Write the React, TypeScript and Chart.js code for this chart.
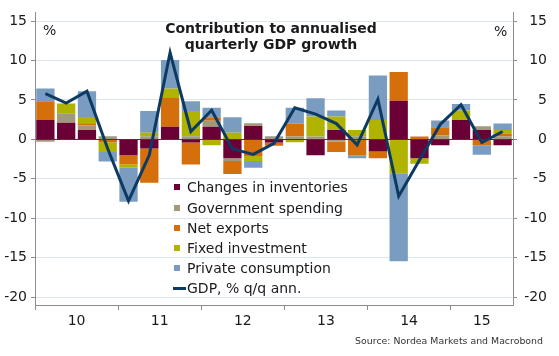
import React, { useEffect, useRef } from 'react';
import { Chart, registerables } from 'chart.js';

Chart.register(...registerables);

// Quarters 2010Q1 .. 2015Q3
const quarters = [
  '2010Q1', '2010Q2', '2010Q3', '2010Q4',
  '2011Q1', '2011Q2', '2011Q3', '2011Q4',
  '2012Q1', '2012Q2', '2012Q3', '2012Q4',
  '2013Q1', '2013Q2', '2013Q3', '2013Q4',
  '2014Q1', '2014Q2', '2014Q3', '2014Q4',
  '2015Q1', '2015Q2', '2015Q3',
];
const yearLabels = ['10', '11', '12', '13', '14', '15'];
const yTicks = [-20, -15, -10, -5, 0, 5, 10, 15];

const inventories = [2.45, 2.1, 1.2, 0, -2.0, -1.15, 1.6, -0.4, 1.6, -2.4, 1.7, -0.4, 0, -2.0, 1.2, 0, -1.55, 4.9, -2.4, -0.75, 2.45, 1.2, -0.75];
const government = [-0.3, 1.2, 0.55, 0.4, 0, 0.4, 0, 0.4, 0.75, -0.35, 0.35, 0.4, 0.35, 0.35, -0.3, 0.4, 0, 0, 0, 0.5, 0, 0.45, 0.4];
const netExports = [2.4, 0, 0.3, -0.4, -1.15, -4.35, 3.65, -2.8, 0.45, -1.65, -2.1, -0.4, 1.65, 0, -1.3, -2.0, -0.85, 3.65, 0.35, 1.05, 0, -0.75, 0.35];
const fixedInvestment = [0, 1.25, 0.8, -1.2, -0.45, 0.45, 1.2, 3.2, -0.75, 0.85, -0.65, 0, -0.35, 2.55, 1.7, 0.8, 2.45, -4.3, -0.7, 0, 1.2, 0, 0.45];
const privateConsumption = [1.6, 0, 3.25, -1.2, -4.3, 2.75, 3.6, 1.25, 1.2, 1.95, -0.85, 0, 2.0, 2.3, 0.75, -0.4, 5.65, -11.15, 0, 0.85, 0.85, -1.2, 0.8];
const gdp = [5.8, 4.6, 6.1, -1.2, -7.8, -2.0, 11.0, 1.0, 3.7, -1.2, -1.9, -0.5, 4.0, 3.2, 2.0, -0.7, 5.1, -7.2, -2.6, 1.9, 4.4, -0.4, 1.0];

const seriesNames = ['Changes in inventories', 'Government spending', 'Net exports', 'Fixed investment', 'Private consumption'];
const seriesColors = ['#6B0036', '#A09A7A', '#D46F0B', '#B0B300', '#7B9CC1'];
const seriesData = [inventories, government, netExports, fixedInvestment, privateConsumption];
const gdpName = 'GDP, % q/q ann.';
const gdpColor = '#0D3A63';

const FONT = 'DejaVu Sans';
const TEXT = '#1a1a1a';
const AXIS = '#8c8c8c';

const yearCenters = yearLabels.map((y) => {
  const idx = quarters.map((q, i) => (q.slice(2, 4) === y ? i : -1)).filter((i) => i >= 0);
  return idx.reduce((a, b) => a + b, 0) / idx.length;
});

export default function App() {
  const canvasRef = useRef<HTMLCanvasElement | null>(null);

  useEffect(() => {
    document.body.style.margin = '0';
    const canvas = canvasRef.current;
    if (!canvas) return;
    const font = { family: FONT, size: 14 };
    const setYTicks = (s: any) => {
      s.ticks = yTicks.map((v) => ({ value: v }));
    };
    const chart = new Chart(canvas, {
      type: 'bar',
      data: {
        labels: quarters,
        datasets: [
          {
            type: 'line' as const,
            label: gdpName,
            data: gdp,
            borderColor: gdpColor,
            backgroundColor: gdpColor,
            borderWidth: 3,
            pointRadius: 0,
            tension: 0,
            fill: false,
            order: 0,
            stack: 'gdp',
            borderJoinStyle: 'miter' as const,
            xAxisID: 'x',
            yAxisID: 'y',
          } as any,
          ...seriesNames.map((name, i) => ({
            type: 'bar' as const,
            label: name,
            data: seriesData[i],
            backgroundColor: seriesColors[i],
            borderWidth: 0,
            barPercentage: 0.88,
            categoryPercentage: 1,
            order: 1,
            stack: 'components',
            xAxisID: 'x',
            yAxisID: 'y',
          })),
        ],
      },
      options: {
        animation: false,
        responsive: true,
        maintainAspectRatio: false,
        layout: { padding: { top: 10, left: 0, right: 12, bottom: 0 } },
        plugins: {
          legend: { display: false },
          tooltip: { enabled: false },
          title: { display: false },
        },
        scales: {
          x: {
            type: 'category',
            position: 'bottom',
            stacked: true,
            offset: true,
            weight: 0,
            grid: {
              offset: true,
              drawOnChartArea: false,
              drawTicks: true,
              tickLength: 5,
              color: (ctx: any) =>
                ctx.index !== undefined && ctx.index % 4 === 0 ? AXIS : 'rgba(0,0,0,0)',
            },
            border: { display: true, color: AXIS, width: 1 },
            ticks: { display: false, autoSkip: false },
            afterFit: (s: any) => {
              s.height = 6;
            },
          },
          yr: {
            type: 'linear',
            axis: 'x',
            position: 'bottom',
            min: -0.5,
            max: quarters.length - 0.5,
            offset: false,
            bounds: 'data',
            grace: 0,
            beginAtZero: false,
            weight: 1,
            grid: { display: false, drawTicks: false, offset: false },
            border: { display: false },
            afterBuildTicks: (s: any) => {
              s.ticks = yearCenters.map((v) => ({ value: v }));
            },
            ticks: {
              font,
              color: TEXT,
              padding: 2,
              autoSkip: false,
              maxRotation: 0,
              callback: (_v: any, i: number) => yearLabels[i],
            },
            afterFit: (s: any) => {
              s.height = 45;
            },
          },
          y: {
            type: 'linear',
            position: 'left',
            stacked: true,
            min: -21,
            max: 16.1,
            afterBuildTicks: setYTicks,
            grid: {
              color: (ctx: any) => (ctx.tick && ctx.tick.value === 0 ? 'rgba(0,0,0,0)' : '#DCE5EE'),
              tickColor: AXIS,
              tickLength: 4,
              lineWidth: 1,
            },
            border: { color: AXIS, width: 1 },
            ticks: { font, color: TEXT, padding: 4, autoSkip: false },
            afterFit: (s: any) => {
              s.width = 35;
            },
          },
          y2: {
            type: 'linear',
            position: 'right',
            min: -21,
            max: 16.1,
            z: 1,
            afterBuildTicks: setYTicks,
            grid: {
              drawOnChartArea: true,
              color: (ctx: any) => (ctx.tick && ctx.tick.value === 0 ? '#3a3a3a' : 'rgba(0,0,0,0)'),
              tickColor: AXIS,
              tickLength: 4,
              lineWidth: 1,
            },
            border: { color: AXIS, width: 1 },
            ticks: { font, color: TEXT, padding: 4, autoSkip: false, crossAlign: 'far' },
            afterFit: (s: any) => {
              s.width = 34;
            },
          },
        },
      } as any,
    });
    return () => chart.destroy();
  }, []);

  const legendTop = 187.3;
  const legendStep = 20.2;
  const textStyle: React.CSSProperties = {
    position: 'absolute',
    fontFamily: FONT,
    fontSize: 14,
    color: TEXT,
    whiteSpace: 'nowrap',
    lineHeight: '20px',
  };

  return (
    <div style={{ position: 'absolute', left: 0, top: 0, width: 559, height: 356, background: '#fff', overflow: 'hidden' }}>
      <canvas ref={canvasRef} style={{ position: 'absolute', left: 0, top: 0 }} />
      <div
        style={{
          position: 'absolute',
          left: 121,
          width: 300,
          top: 19.5,
          textAlign: 'center',
          fontFamily: FONT,
          fontWeight: 'bold',
          fontSize: 14,
          lineHeight: '16px',
          color: TEXT,
        }}
      >
        Contribution to annualised
        <br />
        quarterly GDP growth
      </div>
      <div style={{ ...textStyle, left: 43, top: 20 }}>%</div>
      <div style={{ ...textStyle, left: 494, top: 21 }}>%</div>
      {seriesNames.map((name, i) => (
        <React.Fragment key={name}>
          <div
            style={{
              position: 'absolute',
              left: 174,
              top: legendTop + i * legendStep - 3,
              width: 6,
              height: 6,
              background: seriesColors[i],
            }}
          />
          <div style={{ ...textStyle, left: 187, top: legendTop + i * legendStep - 10 }}>{name}</div>
        </React.Fragment>
      ))}
      <div
        style={{
          position: 'absolute',
          left: 173,
          top: legendTop + 5 * legendStep - 1.5,
          width: 13,
          height: 3,
          background: gdpColor,
        }}
      />
      <div style={{ ...textStyle, left: 187, top: legendTop + 5 * legendStep - 10 }}>{gdpName}</div>
      <div
        style={{
          position: 'absolute',
          right: 559 - 543,
          top: 334,
          fontFamily: FONT,
          fontSize: 9.4,
          lineHeight: '14px',
          color: '#333',
          whiteSpace: 'nowrap',
        }}
      >
        Source: Nordea Markets and Macrobond
      </div>
    </div>
  );
}
